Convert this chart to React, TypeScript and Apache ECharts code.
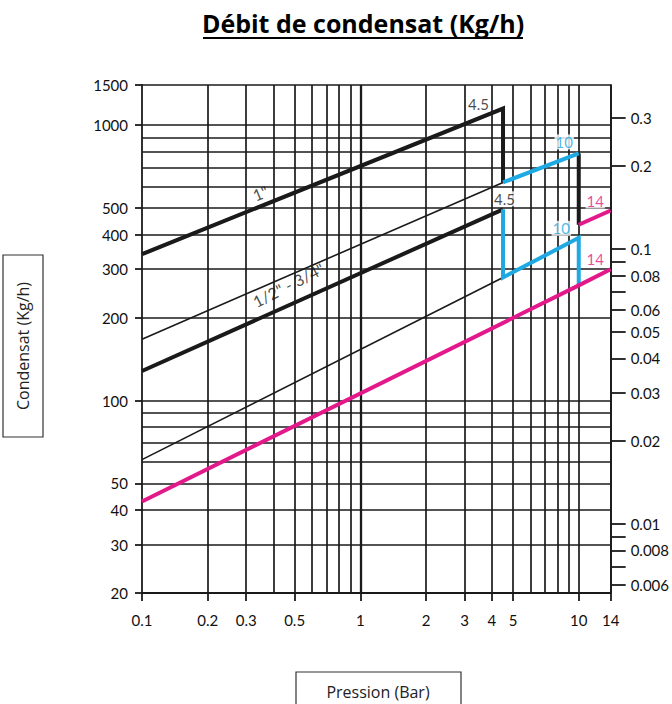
import React, { useEffect, useRef } from 'react';
import * as echarts from 'echarts';

// ---- axis values ----
const xLabelValues = [0.1, 0.2, 0.3, 0.5, 1, 2, 3, 4, 5, 10, 14];
const xGridValues = [0.2, 0.3, 0.4, 0.5, 0.6, 0.7, 0.8, 0.9, 1, 2, 3, 4, 5, 6, 7, 8, 9, 10, 14];
const xMajorValues = [1];
const yMin = 20;
const yMax = 1400;
const yTopLabel = '1500';
const yLabelValues = [20, 30, 40, 50, 100, 200, 300, 400, 500, 1000, 1400];
const yGridValues = [30, 40, 50, 60, 70, 80, 90, 100, 200, 300, 400, 500, 600, 700, 800, 900, 1000, 1400];
const rightMin = 0.0056;
const rightMax = 0.395;
const rightLabelValues = [0.006, 0.008, 0.01, 0.02, 0.03, 0.04, 0.05, 0.06, 0.08, 0.1, 0.2, 0.3];
const rightTickValues = [0.006, 0.007, 0.008, 0.009, 0.01, 0.02, 0.03, 0.04, 0.05, 0.06, 0.07, 0.08, 0.09, 0.1, 0.2, 0.3];

// ---- series values [pression (bar), condensat (kg/h)] ----
const line1inch = [[0.1, 340], [4.5, 1150], [4.5, 620]];
const line1inchStep10 = [[10, 790], [10, 435]];
const lineHalfThreeQuarter = [[0.1, 128], [4.5, 495]];
const thinUpper = [[0.1, 167], [4.5, 620]];
const thinLower = [[0.1, 61], [4.5, 280]];
const blueUpper = [[4.5, 620], [10, 790]];
const blueLower = [[4.5, 495], [4.5, 280], [10, 390], [10, 262]];
const magentaUpper = [[10, 435], [14, 490]];
const magentaLower = [[0.1, 43], [10, 262], [14, 300]];

// ---- annotations ----
const endLabelTexts = ['4.5', '10', '4.5', '14', '10', '14'];
const endLabelPoints = [[4.5, 1150], [10, 790], [4.5, 495], [14, 490], [10, 390], [14, 300]];
const curveLabelTexts = ['1"', '1/2" - 3/4"'];
const curveLabelPoints = [[0.35, 565], [0.47, 262]];

const INK = '#1a1a1a';
const BLUE = '#1ea9e3';
const MAGENTA = '#e3198b';
const FONT = 'Lato, "Open Sans", sans-serif';
const BOX_FONT = '"Open Sans", Lato, sans-serif';
const TICK_COLOR = '#111';

const endLabelColors = [INK, BLUE, INK, MAGENTA, BLUE, MAGENTA];
const endLabelOffsets = [[-24, -4], [-14, -11], [2, -10], [-15, -9], [-17, -9], [-15, -10]];
const curveLabelRotate = [22, 27];

const fmt = (v: number) => String(+Number(v).toPrecision(6));

export default function App() {
  const ref = useRef<HTMLDivElement>(null);
  useEffect(() => {
    if (!ref.current) return;
    const chart = echarts.init(ref.current, undefined, { renderer: 'svg' });
    const lineSeries = (data: number[][], color: string, width: number, z = 3) => ({
      type: 'line',
      xAxisIndex: 0,
      yAxisIndex: 0,
      data,
      symbol: 'none',
      z,
      lineStyle: { color, width, cap: 'butt', join: 'miter' },
      silent: true,
    });
    const hiddenX = (values: number[], width: number) => ({
      type: 'log', logBase: 10, min: 0.1, max: 14, position: 'bottom',
      axisLine: { show: false },
      axisTick: { show: false, customValues: values },
      axisLabel: { show: false },
      splitLine: { show: true, lineStyle: { color: INK, width } },
    });
    const option: any = {
      animation: false,
      grid: { left: 142, top: 85, width: 470, height: 508, containLabel: false },
      xAxis: [
        {
          type: 'log', logBase: 10, min: 0.1, max: 14, position: 'bottom',
          axisLine: { show: true, onZero: false, lineStyle: { color: INK, width: 1.8 } },
          axisTick: { show: true, customValues: xLabelValues, length: 8, lineStyle: { color: INK, width: 1.8 } },
          axisLabel: { customValues: xLabelValues, formatter: fmt, margin: 19, fontSize: 15, color: TICK_COLOR, fontFamily: FONT },
          splitLine: { show: false },
        },
        hiddenX(xGridValues, 1.7),
        hiddenX(xMajorValues, 2.3),
      ],
      yAxis: [
        {
          type: 'log', logBase: 10, min: yMin, max: yMax, position: 'left',
          axisLine: { show: true, onZero: false, lineStyle: { color: INK, width: 1.8 } },
          axisTick: { show: true, customValues: yLabelValues, length: 7, lineStyle: { color: INK, width: 1.8 } },
          axisLabel: {
            customValues: yLabelValues,
            formatter: (v: number) => (Math.abs(v - yMax) < 1 ? yTopLabel : fmt(v)),
            margin: 14, fontSize: 15, color: TICK_COLOR, fontFamily: FONT,
          },
          splitLine: { show: false },
        },
        {
          type: 'log', logBase: 10, min: rightMin, max: rightMax, position: 'right',
          axisLine: { show: true, onZero: false, lineStyle: { color: INK, width: 1.8 } },
          axisTick: { show: true, customValues: rightTickValues, length: 15, lineStyle: { color: INK, width: 1.8 } },
          axisLabel: { customValues: rightLabelValues, formatter: fmt, margin: 20, fontSize: 15, color: TICK_COLOR, fontFamily: FONT },
          splitLine: { show: false },
        },
        {
          type: 'log', logBase: 10, min: yMin, max: yMax, position: 'left',
          axisLine: { show: false },
          axisTick: { show: false, customValues: yGridValues },
          axisLabel: { show: false },
          splitLine: { show: true, lineStyle: { color: INK, width: 1.7 } },
        },
      ],
      series: [
        lineSeries(thinUpper, INK, 1.6),
        lineSeries(thinLower, INK, 1.6),
        lineSeries(line1inch, INK, 4),
        lineSeries(line1inchStep10, INK, 4),
        lineSeries(lineHalfThreeQuarter, INK, 4),
        lineSeries(blueUpper, BLUE, 4, 4),
        lineSeries(blueLower, BLUE, 4, 4),
        lineSeries(magentaUpper, MAGENTA, 4, 4),
        lineSeries(magentaLower, MAGENTA, 4, 4),
        {
          type: 'scatter', xAxisIndex: 0, yAxisIndex: 0, z: 6, silent: true,
          symbol: 'circle', symbolSize: 1, itemStyle: { color: 'rgba(0,0,0,0)' },
          data: endLabelPoints.map((p, i) => ({
            value: p,
            label: {
              show: true, formatter: endLabelTexts[i], position: endLabelOffsets[i],
              align: 'center', verticalAlign: 'middle', color: endLabelColors[i],
              fontSize: 15, fontFamily: FONT, backgroundColor: '#fff', padding: [0, 1],
            },
          })),
        },
        {
          type: 'scatter', xAxisIndex: 0, yAxisIndex: 0, z: 6, silent: true,
          symbol: 'circle', symbolSize: 1, itemStyle: { color: 'rgba(0,0,0,0)' },
          data: curveLabelPoints.map((p, i) => ({
            value: p,
            label: {
              show: true, formatter: curveLabelTexts[i], position: [0, 0], rotate: curveLabelRotate[i],
              align: 'center', verticalAlign: 'middle', color: INK,
              fontSize: 16, fontFamily: FONT,
            },
          })),
        },
      ],
      graphic: [
        {
          type: 'text', z: 10, x: 363, y: 23,
          style: {
            text: 'Débit de condensat (Kg/h)', fontSize: 25, fontWeight: 'bold', fontFamily: BOX_FONT,
            fill: '#000', align: 'center', verticalAlign: 'middle',
          },
        },
        { type: 'line', z: 10, shape: { x1: 203, y1: 38, x2: 523, y2: 38 }, style: { stroke: '#000', lineWidth: 1.8 } },
        { type: 'rect', z: 10, shape: { x: 3, y: 255, width: 40, height: 182 }, style: { fill: '#fff', stroke: '#333', lineWidth: 1.2 } },
        {
          type: 'text', z: 11, x: 23, y: 346, rotation: Math.PI / 2,
          style: { text: 'Condensat (Kg/h)', fontSize: 16, fontFamily: BOX_FONT, fill: '#222', align: 'center', verticalAlign: 'middle' },
        },
        { type: 'rect', z: 10, shape: { x: 296, y: 672, width: 165, height: 60 }, style: { fill: '#fff', stroke: '#333', lineWidth: 1.2 } },
        {
          type: 'text', z: 11, x: 378, y: 692,
          style: { text: 'Pression (Bar)', fontSize: 16, fontFamily: BOX_FONT, fill: '#222', align: 'center', verticalAlign: 'middle' },
        },
      ],
    };
    chart.setOption(option);
    return () => chart.dispose();
  }, []);
  return (
    <div style={{ position: 'fixed', left: 0, top: 0, width: 672, height: 704, background: '#fff' }}>
      <div ref={ref} style={{ width: 672, height: 704 }} />
    </div>
  );
}
